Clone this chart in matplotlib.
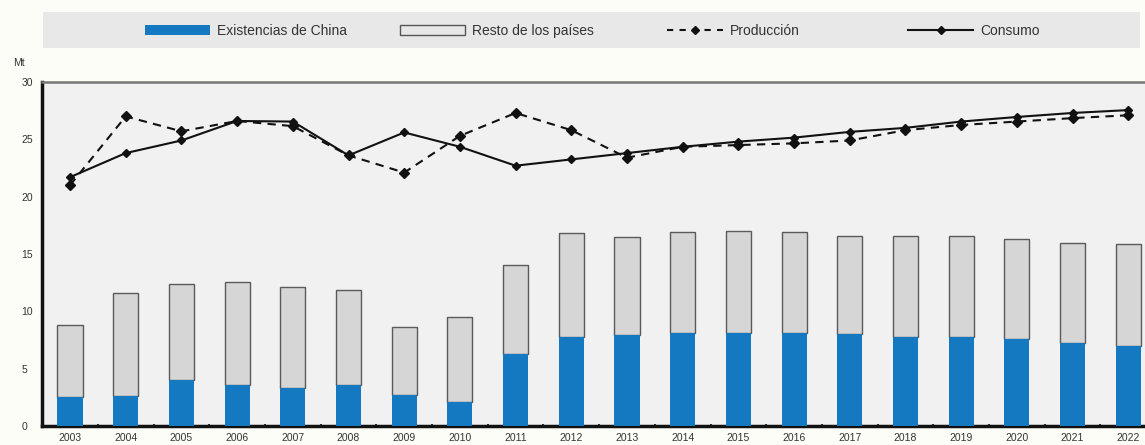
import numpy as np
import matplotlib
matplotlib.use("Agg")
import matplotlib.pyplot as plt
from matplotlib.patches import Rectangle, Patch
from matplotlib.lines import Line2D

plt.rcParams['font.family'] = ['Liberation Sans', 'DejaVu Sans']

years = list(range(2003, 2023))
# stocks (Mt)
china_stocks = [2.55, 2.65, 4.0, 3.6, 3.3, 3.6, 2.7, 2.1, 6.25, 7.8,
                7.95, 8.15, 8.15, 8.1, 8.0, 7.8, 7.8, 7.55, 7.25, 7.0]
total_stocks = [8.8, 11.6, 12.35, 12.6, 12.1, 11.85, 8.6, 9.5, 14.0, 16.8,
                16.5, 16.95, 17.0, 16.95, 16.55, 16.55, 16.55, 16.3, 16.0, 15.85]
production = [21.0, 27.0, 25.7, 26.6, 26.15, 23.6, 22.1, 25.3, 27.3, 25.8,
              23.4, 24.35, 24.5, 24.65, 24.9, 25.8, 26.25, 26.55, 26.85, 27.1]
consumption = [21.7, 23.8, 24.9, 26.6, 26.55, 23.6, 25.6, 24.35, 22.7, 23.25,
               23.8, 24.35, 24.8, 25.15, 25.65, 26.0, 26.55, 26.95, 27.3, 27.55]
labels = ["Existencias de China", "Resto de los países", "Producción", "Consumo"]

rest_stocks = np.array(total_stocks) - np.array(china_stocks)

blue = "#1479c0"
fig = plt.figure(figsize=(11.45, 4.45), dpi=100)
fig.patch.set_facecolor("#fdfdf8")
ax = fig.add_axes([42 / 1145, 1 - 426 / 445, 1 - 42 / 1145, (426 - 82) / 445])
ax.set_facecolor("#f1f1f1")

# bars
ax.bar(years, rest_stocks, width=0.45, bottom=china_stocks, color="#d6d6d6",
       edgecolor="#5a5a5a", linewidth=1.0, zorder=2)
ax.bar(years, china_stocks, width=0.45, color=blue, linewidth=0, zorder=3)

# lines
ax.plot(years, production, color="#111111", linestyle=(0, (4, 3)), linewidth=1.5,
        marker="D", markersize=5, zorder=4)
ax.plot(years, consumption, color="#111111", linestyle="-", linewidth=1.5,
        marker="D", markersize=4.5, zorder=5)

ax.set_xlim(2002.497, 2022.30)
ax.set_ylim(0, 30)
ax.set_yticks(range(0, 31, 5))
ax.set_xticks(years)
ax.set_xticks(np.arange(2002.5, 2022.5, 1), minor=True)
ax.tick_params(axis="x", which="major", length=0, labelsize=7.5, colors="#333333", pad=5)
ax.tick_params(axis="x", which="minor", length=3, direction="inout", width=1.5, color="#333333")
ax.tick_params(axis="y", length=0, labelsize=7.5, colors="#333333", pad=15)
for lab in ax.get_yticklabels():
    lab.set_horizontalalignment("left")

ax.spines["right"].set_visible(False)
ax.spines["left"].set_linewidth(2.5)
ax.spines["left"].set_color("#111111")
ax.spines["bottom"].set_linewidth(2.5)
ax.spines["bottom"].set_color("#111111")
ax.spines["top"].set_linewidth(1.8)
ax.spines["top"].set_color("#777777")

fig.text(13 / 1145, 1 - 63 / 445, "Mt", fontsize=7.5, color="#333333", va="center")

# legend band
fig.patches.append(Rectangle((43 / 1145, 1 - 48 / 445), (1140 - 43) / 1145, 36 / 445,
                             transform=fig.transFigure, facecolor="#e8e8e8",
                             edgecolor="none", zorder=0))
handles = [Patch(facecolor=blue, edgecolor="none"),
           Patch(facecolor="#e8e8e8", edgecolor="#555555", linewidth=1),
           Line2D([], [], color="#111111", linestyle=(0, (3, 3)), linewidth=1.5,
                  marker="D", markersize=4.5),
           Line2D([], [], color="#111111", linestyle="-", linewidth=1.5,
                  marker="D", markersize=4)]
legend_x = [145, 400, 667, 908]
handle_len = [4.7, 4.7, 4.0, 4.7]
for h, lab, lx, hl in zip(handles, labels, legend_x, handle_len):
    leg = fig.legend([h], [lab], loc="center left", bbox_to_anchor=(lx / 1145, 1 - 31 / 445),
                     frameon=False, fontsize=10, handlelength=hl, handleheight=0.7,
                     handletextpad=0.5, borderpad=0, borderaxespad=0, labelcolor="#333333")

fig.savefig("out.png", dpi=100, facecolor=fig.get_facecolor())
